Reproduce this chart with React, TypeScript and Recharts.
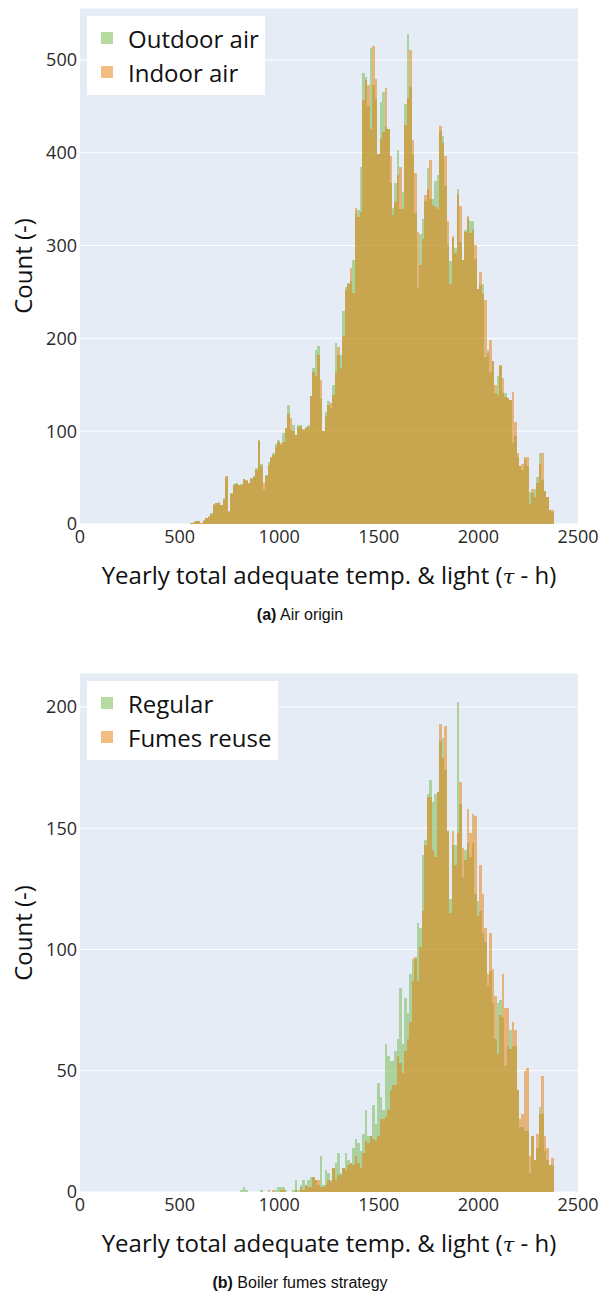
import { Bar, CartesianGrid, ComposedChart, XAxis, YAxis } from "recharts";

// histogram bins: 12.5 h wide, first one starting at 555 h
const BIN_START = 555;
const BIN_WIDTH = 12.5;

const hoursTicks = [0, 500, 1000, 1500, 2000, 2500];
const countTicksA = [0, 100, 200, 300, 400, 500];
const countTicksB = [0, 50, 100, 150, 200];

// (a) air origin
const outdoorAir = [
  1, 1, 3, 3, 1, 4, 6, 9, 12, 21,
  23, 24, 21, 28, 51, 13, 33, 43, 44, 42,
  43, 49, 46, 44, 50, 52, 60, 91, 65, 37,
  53, 67, 71, 76, 86, 90, 85, 98, 103, 128,
  101, 107, 96, 107, 107, 102, 104, 107, 138, 168,
  188, 192, 135, 100, 121, 132, 125, 150, 195, 182,
  182, 230, 255, 260, 262, 285, 335, 338, 385, 486,
  482, 450, 513, 473, 458, 399, 455, 465, 428, 426,
  367, 341, 367, 403, 339, 358, 453, 528, 471, 399,
  335, 254, 313, 329, 348, 384, 350, 350, 370, 376,
  423, 418, 364, 301, 283, 308, 297, 361, 304, 285,
  317, 330, 326, 326, 286, 253, 257, 259, 180, 187,
  164, 176, 141, 159, 170, 141, 141, 136, 134, 87,
  95, 72, 62, 58, 70, 62, 35, 33, 38, 51,
  76, 47, 36, 29, 15, 13,
];
const indoorAir = [
  1, 2, 3, 3, 1, 3, 7, 8, 11, 22,
  23, 23, 20, 26, 52, 14, 32, 42, 43, 42,
  42, 48, 47, 44, 49, 51, 58, 89, 63, 44,
  52, 64, 72, 74, 83, 88, 87, 88, 103, 119,
  114, 100, 96, 105, 106, 101, 103, 104, 138, 164,
  160, 182, 155, 100, 116, 128, 130, 139, 164, 191,
  168, 203, 252, 259, 276, 249, 341, 331, 336, 457,
  478, 473, 426, 515, 479, 399, 415, 422, 470, 426,
  396, 333, 347, 376, 385, 339, 430, 459, 511, 414,
  378, 315, 279, 307, 355, 361, 392, 344, 342, 339,
  429, 410, 396, 327, 259, 310, 292, 356, 343, 285,
  315, 332, 314, 317, 301, 253, 272, 248, 241, 184,
  198, 176, 150, 139, 171, 157, 137, 136, 134, 142,
  110, 77, 62, 65, 72, 72, 22, 38, 29, 44,
  65, 76, 36, 29, 15, 15,
];

// (b) boiler fumes strategy
const regular = [
  0, 0, 0, 0, 0, 0, 0, 0, 0, 0,
  0, 0, 0, 0, 0, 0, 0, 0, 0, 0,
  1, 2, 1, 0, 0, 0, 0, 0, 1, 0,
  0, 0, 0, 0, 1, 2, 2, 2, 1, 0,
  0, 1, 5, 1, 3, 5, 3, 5, 6, 6,
  5, 3, 15, 3, 9, 8, 5, 10, 12, 16,
  8, 10, 16, 13, 12, 18, 22, 20, 17, 24,
  34, 23, 23, 36, 28, 45, 39, 34, 61, 56,
  54, 54, 58, 63, 84, 61, 80, 74, 90, 96,
  96, 111, 109, 139, 145, 164, 170, 161, 164, 165,
  186, 187, 174, 149, 121, 143, 143, 202, 160, 130,
  141, 144, 138, 144, 123, 120, 116, 107, 103, 85,
  91, 78, 63, 78, 79, 72, 52, 60, 67, 60,
  60, 42, 27, 27, 25, 25, 8, 23, 13, 18,
  35, 32, 17, 13, 11, 11,
];
const fumesReuse = [
  0, 0, 0, 0, 0, 0, 0, 0, 0, 0,
  0, 0, 0, 0, 0, 0, 0, 0, 0, 0,
  0, 0, 0, 0, 0, 0, 0, 0, 0, 0,
  0, 1, 0, 1, 0, 0, 1, 1, 0, 0,
  0, 0, 1, 0, 2, 1, 3, 2, 2, 6,
  5, 5, 2, 2, 3, 5, 4, 10, 5, 7,
  7, 10, 9, 11, 12, 11, 15, 12, 10, 16,
  21, 20, 23, 22, 21, 23, 30, 30, 31, 34,
  42, 44, 44, 56, 53, 49, 58, 63, 70, 87,
  97, 87, 101, 116, 143, 163, 163, 141, 138, 165,
  193, 179, 192, 149, 115, 149, 135, 148, 169, 142,
  137, 158, 148, 156, 155, 114, 135, 123, 109, 90,
  107, 92, 81, 57, 73, 90, 76, 76, 59, 70,
  67, 42, 30, 32, 50, 51, 15, 23, 13, 24,
  32, 48, 23, 18, 11, 14,
];

const GREEN = "#6fb545";
const ORANGE = "#e57b01";
const PLOT_BG = "#e5ecf6";
const INK = "#2a2a2a";
const FONT = "'Open Sans', sans-serif";

const CHART_W = 599;
const MARGIN = { top: 8, right: 21, bottom: 6, left: 20 };
const Y_AXIS_W = 60;
const PLOT_W = CHART_W - MARGIN.left - MARGIN.right - Y_AXIS_W;
const X_MAX = 2500;
// one bin spans this many pixels on the hours axis
const BIN_PX = (BIN_WIDTH * PLOT_W) / X_MAX;

function toBins(first: number[], second: number[]) {
  return first.map((v, i) => ({
    x: BIN_START + BIN_WIDTH * (i + 0.5),
    first: v,
    second: second[i],
  }));
}

// Recharts rounds bar widths down to whole pixels; draw each bin edge to edge instead
function BinRect(props: any) {
  const { x, y, width, height, fill, fillOpacity } = props;
  if (!height || height <= 0) return <g />;
  const cx = x + width / 2;
  return (
    <rect
      x={cx - BIN_PX / 2}
      y={y}
      width={BIN_PX}
      height={height}
      fill={fill}
      fillOpacity={fillOpacity}
      shapeRendering="crispEdges"
    />
  );
}

interface PanelProps {
  top: number;
  plotHeight: number;
  yMax: number;
  yTicks: number[];
  data: { x: number; first: number; second: number }[];
  names: [string, string];
  legendWidth: number;
  tag: string;
  caption: string;
}

function Panel({ top, plotHeight, yMax, yTicks, data, names, legendWidth, tag, caption }: PanelProps) {
  const height = MARGIN.top + plotHeight + 36;
  const plotMid = top + MARGIN.top + plotHeight / 2;
  const plotBottom = top + MARGIN.top + plotHeight;
  return (
    <>
      <div style={{ position: "absolute", left: 0, top }}>
        <ComposedChart
          width={CHART_W}
          height={height}
          data={data}
          margin={MARGIN}
          barCategoryGap={0}
          barGap={0}
        >
          <CartesianGrid vertical={false} stroke="#ffffff" fill={PLOT_BG} fillOpacity={1} />
          <XAxis
            xAxisId="first"
            dataKey="x"
            type="number"
            domain={[0, X_MAX]}
            ticks={hoursTicks}
            height={30}
            tickSize={0}
            tickMargin={6}
            axisLine={false}
            tickLine={false}
            tick={{ fill: INK, fontSize: 18, fontFamily: FONT }}
          />
          <XAxis xAxisId="second" dataKey="x" type="number" domain={[0, X_MAX]} hide />
          <YAxis
            type="number"
            domain={[0, yMax]}
            ticks={yTicks}
            width={Y_AXIS_W}
            tickSize={0}
            tickMargin={3}
            axisLine={false}
            tickLine={false}
            tick={{ fill: INK, fontSize: 18, fontFamily: FONT }}
          />
          <Bar
            xAxisId="first"
            dataKey="first"
            fill={GREEN}
            fillOpacity={0.5}
            shape={BinRect}
            isAnimationActive={false}
          />
          <Bar
            xAxisId="second"
            dataKey="second"
            fill={ORANGE}
            fillOpacity={0.5}
            shape={BinRect}
            isAnimationActive={false}
          />
        </ComposedChart>
      </div>

      {/* legend box */}
      <div
        style={{
          position: "absolute",
          left: 87,
          top: top + MARGIN.top + 8,
          width: legendWidth,
          height: 79,
          background: "#ffffff",
        }}
      >
        {names.map((name, i) => (
          <div
            key={name}
            style={{
              position: "absolute",
              left: 0,
              top: 5 + i * 34,
              height: 34,
              display: "flex",
              alignItems: "center",
              fontFamily: FONT,
              fontSize: 24,
              color: "#111",
              whiteSpace: "nowrap",
            }}
          >
            <span
              style={{
                display: "inline-block",
                width: 12,
                height: 12,
                marginLeft: 14,
                marginRight: 15,
                background: i === 0 ? GREEN : ORANGE,
                opacity: 0.5,
              }}
            />
            {name}
          </div>
        ))}
      </div>

      {/* axis titles */}
      <div
        style={{
          position: "absolute",
          left: 22,
          top: plotMid,
          transform: "translate(-50%, -50%) rotate(-90deg)",
          fontFamily: FONT,
          fontSize: 24,
          color: "#111",
          whiteSpace: "nowrap",
        }}
      >
        Count (-)
      </div>
      <div
        style={{
          position: "absolute",
          left: 329,
          top: plotBottom + 50,
          transform: "translate(-50%, -50%)",
          fontFamily: FONT,
          fontSize: 24,
          color: "#111",
          whiteSpace: "nowrap",
        }}
      >
        Yearly total adequate temp. &amp; light (
        <span style={{ fontFamily: "'DejaVu Serif', serif", fontStyle: "italic", fontSize: 21 }}>τ</span>
        {" - h)"}
      </div>
      <div
        style={{
          position: "absolute",
          left: 300,
          top: plotBottom + 91,
          transform: "translate(-50%, -50%)",
          fontFamily: "'Liberation Sans', Arial, sans-serif",
          fontSize: 16,
          color: "#111",
          whiteSpace: "nowrap",
        }}
      >
        <b>{tag}</b> {caption}
      </div>
    </>
  );
}

export default function App() {
  return (
    <div style={{ position: "absolute", left: 0, top: 0, width: 599, height: 1293, background: "#ffffff" }}>
      <Panel
        top={0}
        plotHeight={516}
        yMax={556}
        yTicks={countTicksA}
        data={toBins(outdoorAir, indoorAir)}
        names={["Outdoor air", "Indoor air"]}
        legendWidth={178}
        tag="(a)"
        caption="Air origin"
      />
      <Panel
        top={665}
        plotHeight={519}
        yMax={214}
        yTicks={countTicksB}
        data={toBins(regular, fumesReuse)}
        names={["Regular", "Fumes reuse"]}
        legendWidth={191}
        tag="(b)"
        caption="Boiler fumes strategy"
      />
    </div>
  );
}
